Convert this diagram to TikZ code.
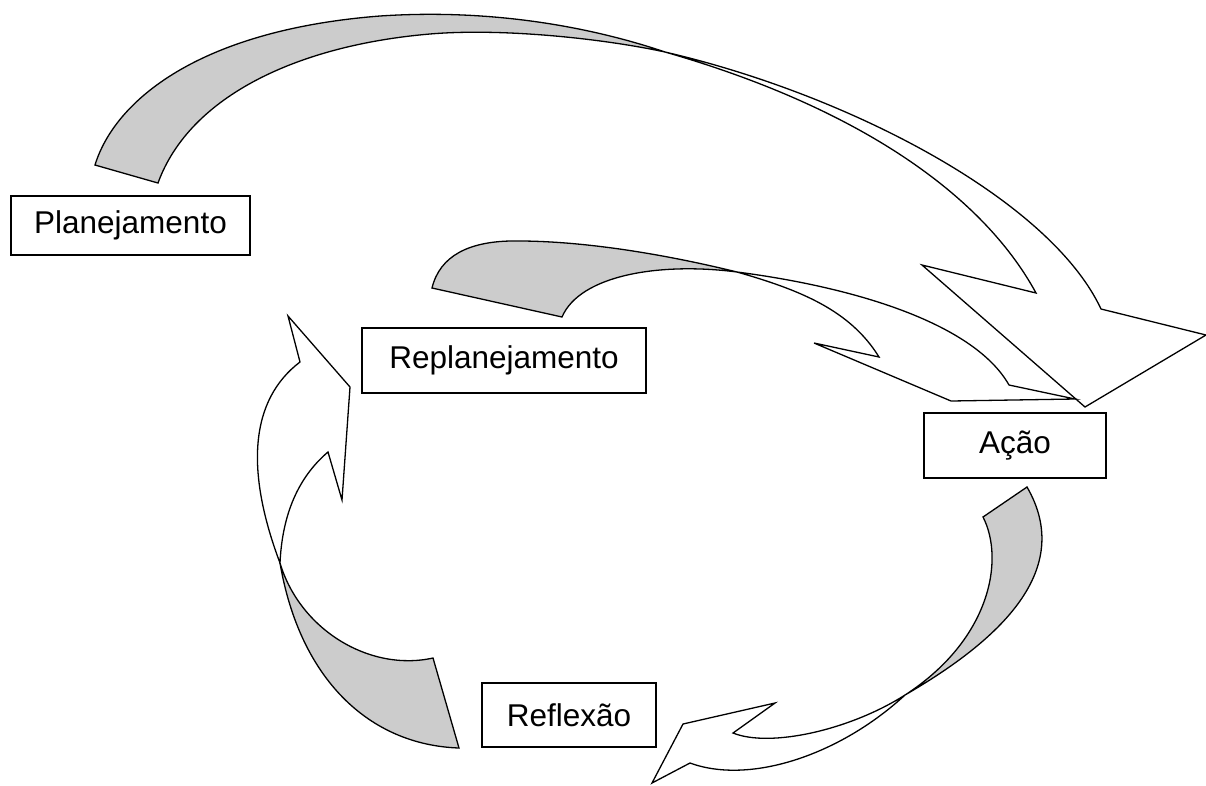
\documentclass[tikz,border=0pt]{standalone}
\usepackage{fontspec}
\setmainfont{Liberation Sans}
\definecolor{ribbongrey}{HTML}{CCCCCC}
\tikzset{
  labelbox/.style={draw, line width=1.8pt, fill=white, inner sep=0pt, align=center,
    font=\fontsize{31.5}{36}\selectfont},
  backside/.style={draw, line width=1.3pt, fill=ribbongrey, line join=miter},
  frontside/.style={draw, line width=1.3pt, fill=white, line join=miter}
}
\begin{document}
\begin{tikzpicture}[x=1pt, y=-1pt]
\useasboundingbox (0,0) rectangle (1206,785);

% boxes
\node[labelbox, minimum width=239pt, minimum height=59pt] (plan) at (130.5,225.5) {Planejamento};
\node[labelbox, minimum width=284pt, minimum height=65pt] (replan) at (504,360.5) {Replanejamento};
\node[labelbox, minimum width=182pt, minimum height=65pt] (acao) at (1015,445.5) {Ação};
\node[labelbox, minimum width=174pt, minimum height=64pt] (refl) at (569,715) {Reflexão};

% arrow 1: Planejamento -> Ação
\coordinate (t1) at (665,52);
\path[backside] (95,165) .. controls (115,100) and (200,30) .. (380,16)
  .. controls (500,8) and (600,30) .. (t1)
  .. controls (600,38) and (500,28) .. (430,34)
  .. controls (300,45) and (190,95) .. (158,183) -- cycle;
\path[frontside] (t1) .. controls (850,95) and (1050,200) .. (1101,309)
  -- (1206,335) -- (1085,407) -- (922,265) -- (1036,293)
  .. controls (980,190) and (850,105) .. (t1) -- cycle;

% arrow 2: Replanejamento -> Ação
\coordinate (t2) at (737,272);
\path[backside] (432,288) .. controls (440,255) and (470,242) .. (510,241)
  .. controls (590,240) and (680,258) .. (t2)
  .. controls (660,262) and (580,275) .. (562,317) -- cycle;
\path[frontside] (t2) .. controls (860,288) and (975,325) .. (1009,385)
  -- (1075,399) -- (951,401) -- (814,343) -- (879,357)
  .. controls (850,310) and (800,290) .. (t2) -- cycle;

% arrow 3: Ação -> Reflexão
\coordinate (t3) at (905,695);
\path[backside] (983,517) .. controls (1005,560) and (990,640) .. (t3)
  .. controls (1000,640) and (1075,570) .. (1027,487) -- cycle;
\path[frontside] (t3) .. controls (850,730) and (770,748) .. (733,733)
  -- (775,703) -- (683,724) -- (652,783) -- (690,763)
  .. controls (750,785) and (840,755) .. (t3) -- cycle;

% arrow 4: Reflexão -> Replanejamento
\coordinate (t4) at (280,563);
\path[backside] (433,658) .. controls (370,672) and (300,630) .. (t4)
  .. controls (300,680) and (370,745) .. (459,748) -- cycle;
\path[frontside] (t4) .. controls (245,470) and (250,400) .. (300,362)
  -- (288,316) -- (350,387) -- (342,500) -- (328,452)
  .. controls (295,480) and (282,520) .. (t4) -- cycle;
\end{tikzpicture}
\end{document}
